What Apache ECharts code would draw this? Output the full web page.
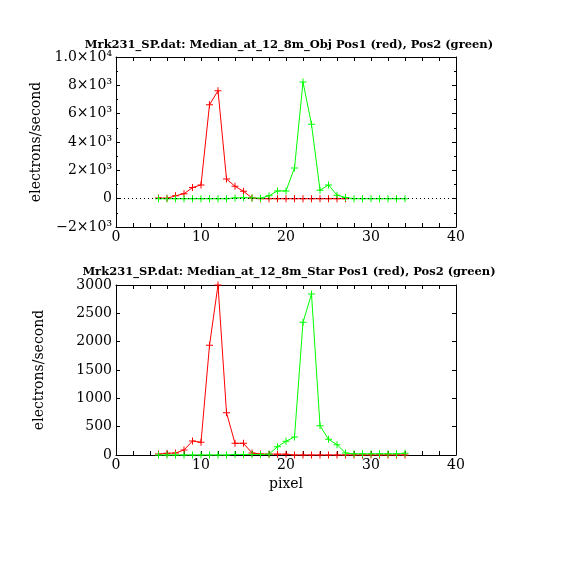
<!DOCTYPE html>
<html>
<head>
<meta charset="utf-8">
<script src="https://cdn.jsdelivr.net/npm/echarts@6/dist/echarts.min.js"></script>
<style>html,body{margin:0;padding:0;background:#fff;}#c{width:570px;height:570px;}</style>
</head>
<body>
<div id="c"></div>
<script>
// ---- data ----
const titleTop = 'Mrk231_SP.dat: Median_at_12_8m_Obj Pos1 (red), Pos2 (green)';
const titleBottom = 'Mrk231_SP.dat: Median_at_12_8m_Star Pos1 (red), Pos2 (green)';
const yName = 'electrons/second';
const xName = 'pixel';

const topRedX = [5,6,7,8,9,10,11,12,13,14,15,16,17,18,19,20,21,22,23,24,25,26,27];
const topRedY = [50,30,200,350,780,970,6630,7620,1390,870,520,50,0,0,0,0,0,0,0,0,0,0,0];
const topGreenX = [5,6,7,8,9,10,11,12,13,14,15,16,17,18,19,20,21,22,23,24,25,26,27,28,29,30,31,32,33,34];
const topGreenY = [0,0,0,0,0,0,0,0,0,50,60,50,30,200,550,550,2170,8230,5250,600,970,250,80,0,0,0,0,0,0,0];

const botRedX = [5,6,7,8,9,10,11,12,13,14,15,16,17,18,19,20,21,22,23,24,25,26,27,28,29,30,31,32,33,34];
const botRedY = [17,30,35,88,247,224,1936,3000,747,206,206,35,18,15,15,15,0,0,0,0,0,0,0,0,0,0,0,0,0,0];
const botGreenX = [5,6,7,8,9,10,11,12,13,14,15,16,17,18,19,20,21,22,23,24,25,26,27,28,29,30,31,32,33,34];
const botGreenY = [0,0,0,0,0,0,0,0,0,10,10,10,10,15,147,241,318,2341,2841,518,277,183,35,20,20,20,20,20,20,30];

const topYTickLabels = {'-2000':'\u22122\u00d710\u00b3','0':'0','2000':'2\u00d710\u00b3','4000':'4\u00d710\u00b3','6000':'6\u00d710\u00b3','8000':'8\u00d710\u00b3','10000':'1.0\u00d710\u2074'};

// ---- chart ----
const font = 'DejaVu Serif';
const plus = 'path://M3,0H4V3H7V4H4V7H3V4H0V3H3Z';
function pairs(xs, ys){ return xs.map((x,i)=>[x, ys[i]]); }

const grids = [
  {left:116, top:57, width:340, height:170},
  {left:116, top:285, width:340, height:170}
];
const axLine = {show:true, onZero:false, lineStyle:{color:'#000', width:1}};
function xAx(g, pos, labels, name){
  return {
    type:'value', gridIndex:g, position:pos, min:0, max:40, interval:10,
    axisLine:axLine,
    axisTick:{show:true, inside:true, length:4, lineStyle:{color:'#000'}},
    minorTick:{show:true, splitNumber:5, length:4, lineStyle:{color:'#000'}},
    splitLine:{show:false},
    axisLabel:{show:labels, color:'#000', fontFamily:font, fontSize:14, margin:3},
    name:name||'', nameLocation:'middle', nameGap:22,
    nameTextStyle:{color:'#000', fontFamily:font, fontSize:14}
  };
}
function yAx(g, pos, labels, min, max, interval, minorSplit, fmt, name){
  return {
    type:'value', gridIndex:g, position:pos, min:min, max:max, interval:interval,
    axisLine:axLine,
    axisTick:{show:true, inside:true, length:4, lineStyle:{color:'#000'}},
    minorTick:{show:minorSplit>1, splitNumber:minorSplit||1, length:2, lineStyle:{color:'#000'}},
    splitLine:{show:false},
    axisLabel:{show:labels, color:'#000', fontFamily:font, fontSize:14, margin:4, formatter:fmt},
    name:name||'', nameLocation:'middle', nameGap:70, nameRotate:90,
    nameTextStyle:{color:'#000', fontFamily:font, fontSize:14}
  };
}
function line(name, xi, yi, data, color, extra){
  return Object.assign({
    name:name, type:'line', xAxisIndex:xi, yAxisIndex:yi, data:data,
    symbol:plus, symbolSize:7, showSymbol:true,
    lineStyle:{color:color, width:1}, itemStyle:{color:color},
    animation:false, z:3
  }, extra||{});
}

const chart = echarts.init(document.getElementById('c'), null, {renderer:'canvas'});
chart.setOption({
  backgroundColor:'#fff',
  animation:false,
  title:[
    {text:titleTop, left:284, top:34, textAlign:'center', textStyle:{fontFamily:font, fontSize:11.5, fontWeight:'bold', color:'#000'}},
    {text:titleBottom, left:284, top:261, textAlign:'center', textStyle:{fontFamily:font, fontSize:11.5, fontWeight:'bold', color:'#000'}}
  ],
  grid:grids,
  xAxis:[
    xAx(0,'bottom',true),
    xAx(0,'top',false),
    xAx(1,'bottom',true, xName),
    xAx(1,'top',false)
  ],
  yAxis:[
    yAx(0,'left',true,-2000,10000,2000,2,v=>topYTickLabels[String(v)], yName),
    yAx(0,'right',false,-2000,10000,2000,2),
    yAx(1,'left',true,0,3000,500,1,v=>String(v), yName),
    yAx(1,'right',false,0,3000,500,1)
  ],
  series:[
    line('Pos1 top',0,0,pairs(topRedX,topRedY),'#ff0000',{
      markLine:{silent:true, symbol:'none', label:{show:false},
        lineStyle:{color:'#000', type:[1,3], width:1}, data:[{yAxis:0}], animation:false}
    }),
    line('Pos2 top',0,0,pairs(topGreenX,topGreenY),'#00ff00'),
    line('Pos1 bottom',2,2,pairs(botRedX,botRedY),'#ff0000'),
    line('Pos2 bottom',2,2,pairs(botGreenX,botGreenY),'#00ff00')
  ]
});
</script>
</body>
</html>
